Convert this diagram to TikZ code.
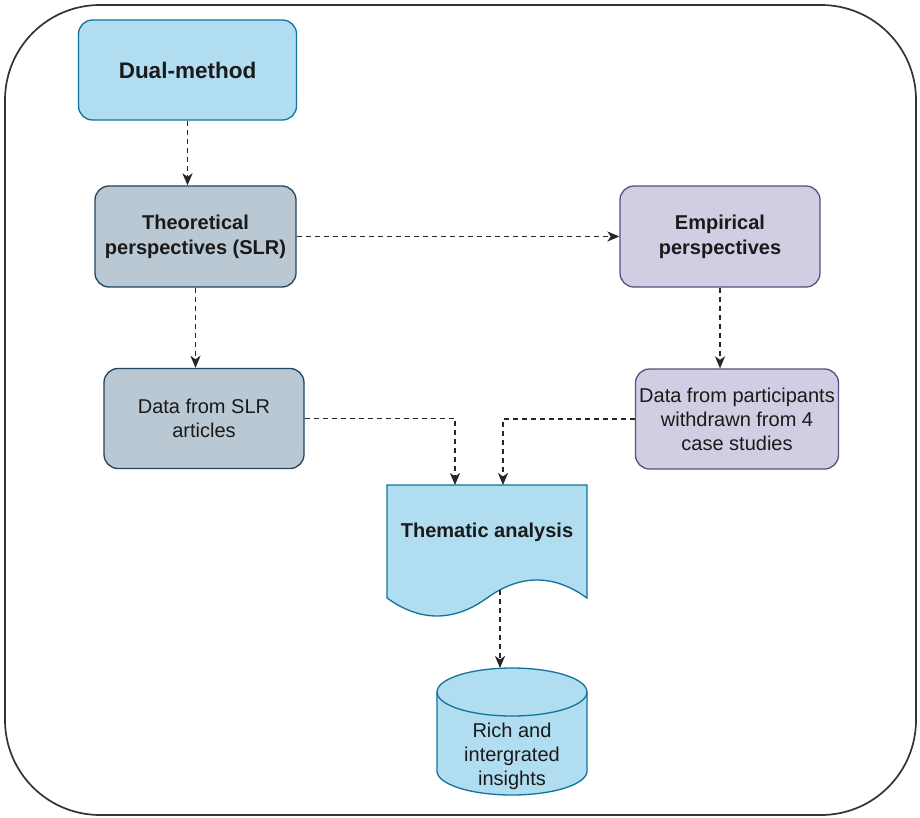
\documentclass[tikz,border=0pt]{standalone}
\usepackage{fontspec}
\setmainfont{Liberation Sans}
\usetikzlibrary{arrows.meta,calc}
\definecolor{blueFill}{HTML}{B1DDF0}
\definecolor{blueLine}{HTML}{10739E}
\definecolor{greyFill}{HTML}{BAC8D3}
\definecolor{greyLine}{HTML}{23445D}
\definecolor{purpleFill}{HTML}{D0CEE2}
\definecolor{purpleLine}{HTML}{56517E}
\definecolor{inkText}{HTML}{1A1A1A}

\begin{document}
\begin{tikzpicture}[x=1pt,y=-1pt,
  box/.style={rounded corners=14pt, line width=1.3pt, inner sep=0pt, align=center,
    minimum width=200pt, minimum height=100pt, text=inkText,
    font=\fontsize{20}{24}\selectfont},
  bluebox/.style={box, draw=blueLine, fill=blueFill},
  greybox/.style={box, draw=greyLine, fill=greyFill},
  purplebox/.style={box, draw=purpleLine, fill=purpleFill},
  shapeline/.style={draw=blueLine, fill=blueFill, line width=1.3pt},
  plain/.style={inner sep=0pt, align=center, text=inkText, font=\fontsize{20}{24}\selectfont},
  flow/.style={line width=1.9pt, draw=black!85, dash pattern=on 5pt off 4pt,
    -{Stealth[length=12pt,width=10pt,inset=3.5pt]}}
]
\useasboundingbox (0,0) rectangle (920,818);

% outer frame
\draw[rounded corners=95pt, line width=1.7pt, draw=black!80, fill=white] (5,5) rectangle (916,815);

% process boxes
\node[bluebox, minimum width=218pt, font=\fontsize{22.5}{26}\selectfont\bfseries] (dual) at (187.5,70) {Dual-method};
\node[greybox, minimum width=201pt, minimum height=101pt, font=\fontsize{20}{25}\selectfont\bfseries] (theo) at (195.5,236.5) {Theoretical\\perspectives (SLR)};
\node[purplebox, minimum height=101pt, font=\fontsize{20}{25}\selectfont\bfseries] (emp) at (720,236.5) {Empirical\\perspectives};
\node[greybox] (slr) at (204,418.5) {Data from SLR\\articles};
\node[purplebox, minimum width=203pt] (part) at (737,419) {Data from participants\\withdrawn from 4\\case studies};

% document shape for the analysis step
\draw[shapeline] (387,485) -- (587,485) -- (587,598)
  .. controls (553.7,574) and (520.3,574) .. (487,598)
  .. controls (453.7,622) and (420.3,622) .. (387,598) -- cycle;
\node[plain, font=\fontsize{20}{24}\selectfont\bfseries] (thema) at (487,532) {Thematic analysis};
\coordinate (inL) at (455,485);
\coordinate (inR) at (503,485);
\coordinate (docOut) at (500,590);

% database cylinder
\draw[shapeline] (437,692) -- (437,771)
  arc[start angle=180, end angle=360, x radius=75pt, y radius=24pt]
  -- (587,692)
  arc[start angle=0, end angle=180, x radius=75pt, y radius=24pt] -- cycle;
\draw[draw=blueLine, line width=1.3pt] (437,692)
  arc[start angle=180, end angle=360, x radius=75pt, y radius=24pt];
\node[plain] (insight) at (512,756) {Rich and\\intergrated\\insights};
\coordinate (cylTop) at (500,668);

% connectors
\draw[flow] (dual.south) -- (dual.south |- theo.north);
\draw[flow] (theo.east) -- (emp.west);
\draw[flow] (theo.south) -- (theo.south |- slr.north);
\draw[flow] (emp.south) -- (emp.south |- part.north);
\draw[flow] (slr.east) -| (inL);
\draw[flow] (part.west) -| (inR);
\draw[flow] (docOut) -- (cylTop);
\end{tikzpicture}
\end{document}
